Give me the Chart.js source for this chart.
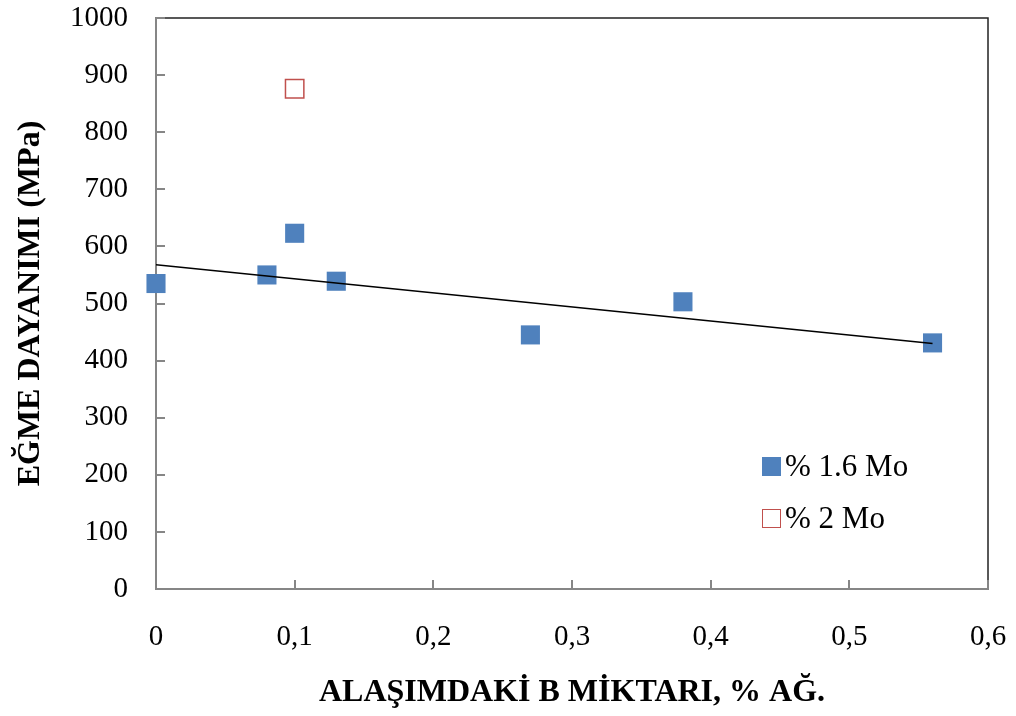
<!DOCTYPE html>
<html>
<head>
<meta charset="utf-8">
<title>Eğme dayanımı</title>
<script src="https://cdn.jsdelivr.net/npm/chart.js"></script>
<style>
    html, body { margin: 0; padding: 0; background: #fff; }
    #wrap { position: relative; width: 1016px; height: 716px; }
    #legend { position: absolute; left: 762px; top: 449px; font-family: 'Liberation Serif', 'Times New Roman', serif; font-size: 31px; color: #000; }
    #legend .row { display: flex; align-items: center; height: 34px; margin-bottom: 18px; white-space: nowrap; }
    #legend .box { width: 19px; height: 19px; margin-right: 4px; box-sizing: border-box; }
</style>
</head>
<body>
<div id="wrap">
    <canvas id="chart" width="1016" height="716"></canvas>
    <div id="legend">
        <div class="row"><span class="box" style="background:#4F81BD"></span>% 1.6 Mo</div>
        <div class="row"><span class="box" style="border:1.5px solid #C0504D"></span>% 2 Mo</div>
    </div>
</div>
<script>
// Data
const boron16 = [0, 0.08, 0.1, 0.13, 0.27, 0.38, 0.56];
const strength16 = [535, 550, 623, 539, 445, 503, 431];
const boron2 = [0.1];
const strength2 = [876];
const trendX = [0, 0.56];
const trendY = [568, 430];
const xTicks = [0, 0.1, 0.2, 0.3, 0.4, 0.5, 0.6];
const yTicks = [0, 100, 200, 300, 400, 500, 600, 700, 800, 900, 1000];

const toPoints = (xs, ys) => xs.map((x, i) => ({ x: x, y: ys[i] }));

// Plot frame and inward tick marks, like the Excel original
const framePlugin = {
    id: 'frame',
    beforeDatasetsDraw(chart) {
        const { ctx, chartArea: a, scales } = chart;
        ctx.save();
        ctx.strokeStyle = '#222';
        ctx.lineWidth = 1.5;
        ctx.strokeRect(a.left, a.top, a.right - a.left, a.bottom - a.top);

        ctx.strokeStyle = '#868686';
        ctx.lineWidth = 2;
        ctx.beginPath();
        ctx.moveTo(a.left, a.top);
        ctx.lineTo(a.left, a.bottom);
        ctx.lineTo(a.right, a.bottom);
        yTicks.forEach(v => {
            const y = Math.round(scales.y.getPixelForValue(v));
            ctx.moveTo(a.left, y);
            ctx.lineTo(a.left + 9, y);
        });
        xTicks.forEach(v => {
            const x = Math.round(scales.x.getPixelForValue(v));
            ctx.moveTo(x, a.bottom);
            ctx.lineTo(x, a.bottom - 9);
        });
        ctx.stroke();
        ctx.restore();
    }
};

const serif = 'Liberation Serif';

new Chart(document.getElementById('chart'), {
    type: 'scatter',
    data: {
        datasets: [{
            label: '% 1.6 Mo',
            data: toPoints(boron16, strength16),
            pointStyle: 'rect',
            pointRadius: 13.5,
            pointHoverRadius: 13.5,
            backgroundColor: '#4F81BD',
            borderColor: '#4F81BD',
            borderWidth: 0,
            clip: false,
            order: 2
        }, {
            label: '% 2 Mo',
            data: toPoints(boron2, strength2),
            pointStyle: 'rect',
            pointRadius: 13,
            pointHoverRadius: 13,
            backgroundColor: '#fff',
            borderColor: '#C0504D',
            borderWidth: 1.5,
            clip: false,
            order: 3
        }, {
            label: 'trend',
            type: 'line',
            data: toPoints(trendX, trendY),
            borderColor: '#000',
            borderWidth: 1.5,
            pointRadius: 0,
            fill: false,
            order: 1
        }]
    },
    options: {
        responsive: false,
        animation: false,
        layout: { padding: { top: 18, right: 28, left: 0, bottom: 0 } },
        plugins: {
            legend: { display: false },
            tooltip: { enabled: false }
        },
        scales: {
            x: {
                type: 'linear',
                min: 0,
                max: 0.6,
                afterBuildTicks: (s) => { s.ticks = xTicks.map(v => ({ value: v })); },
                afterFit: (s) => {
                    s.height = 127;
                    // labels may overhang the plot edges, as in the original
                    s.paddingLeft = 0;
                    s.paddingRight = 0;
                },
                grid: { display: false },
                border: { display: false },
                ticks: {
                    padding: 23,
                    color: '#000',
                    font: { family: serif, size: 29 },
                    callback: (v) => String(v).replace('.', ',')
                },
                title: {
                    display: true,
                    text: 'ALAŞIMDAKİ B MİKTARI, % AĞ.',
                    color: '#000',
                    font: { family: serif, size: 32, weight: 'bold' },
                    padding: { top: 10, bottom: 4 }
                }
            },
            y: {
                min: 0,
                max: 1000,
                afterBuildTicks: (s) => { s.ticks = yTicks.map(v => ({ value: v })); },
                afterFit: (s) => {
                    s.width = 156;
                    s.paddingTop = 0;
                    s.paddingBottom = 0;
                },
                grid: { display: false },
                border: { display: false },
                ticks: {
                    padding: 20,
                    color: '#000',
                    font: { family: serif, size: 29 },
                    callback: (v) => String(v)
                },
                title: {
                    display: true,
                    text: 'EĞME DAYANIMI (MPa)',
                    color: '#000',
                    font: { family: serif, size: 32, weight: 'bold' },
                    padding: { top: 12, bottom: 0 }
                }
            }
        }
    },
    plugins: [framePlugin]
});
</script>
</body>
</html>
